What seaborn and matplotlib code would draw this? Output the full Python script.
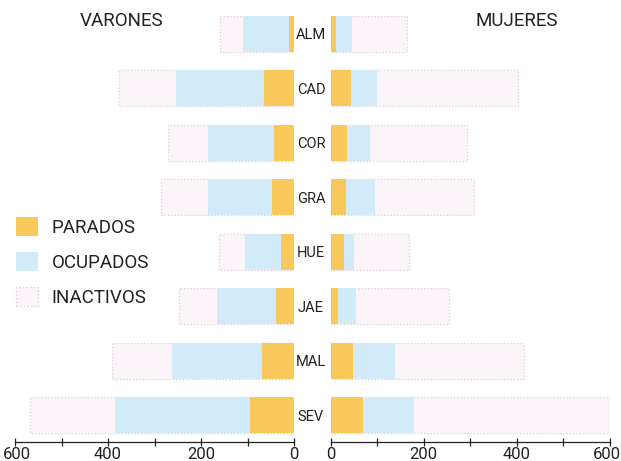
import matplotlib
matplotlib.use("Agg")
import matplotlib.pyplot as plt
import matplotlib.transforms as mtransforms
from matplotlib.patches import Patch
from matplotlib.ticker import MultipleLocator
import seaborn as sns

# Data (thousands of people)
provincias = ["ALM", "CAD", "COR", "GRA", "HUE", "JAE", "MAL", "SEV"]
var_parados = [11, 64, 43, 48, 28, 39, 69, 95]
var_ocupados = [98, 190, 142, 137, 77, 127, 194, 289]
var_inactivos = [50, 122, 87, 101, 56, 81, 129, 184]
muj_parados = [11, 44, 34, 33, 28, 15, 47, 70]
muj_ocupados = [35, 56, 50, 63, 21, 39, 91, 108]
muj_inactivos = [117, 303, 208, 212, 119, 201, 278, 422]
ticks = [0, 200, 400, 600]

c_par = "#f8c95a"
c_ocu = "#d2ebf8"
c_ina = "#fbf4f8"
c_edge = "#e2ced7"

sns.set_style("white")
plt.rcParams["font.family"] = ["Roboto", "DejaVu Sans"]
ink = "#222222"

fig = plt.figure(figsize=(6.21, 4.61), dpi=100)
H = 461
W = 621
bottom = (H - 441.7) / H
top = 1 - 10 / H
ax_l = fig.add_axes([15 / W, bottom, (294 - 15) / W, top - bottom])
ax_r = fig.add_axes([330.7 / W, bottom, (610 - 330.7) / W, top - bottom])


def stacked(ax, par, ocu, ina):
  tot_ocu = [p + o for p, o in zip(par, ocu)]
  tot = [t + i for t, i in zip(tot_ocu, ina)]
  sns.barplot(x=tot, y=provincias, orient="h", color=c_ina, saturation=1,
              width=0.66, edgecolor=c_edge, linewidth=0.9, linestyle=":", ax=ax)
  sns.barplot(x=tot_ocu, y=provincias, orient="h", color=c_ocu, saturation=1,
              width=0.66, linewidth=0, ax=ax)
  sns.barplot(x=par, y=provincias, orient="h", color=c_par, saturation=1,
              width=0.66, linewidth=0, ax=ax)
  ax.set_ylim(7.49, -0.44)
  ax.set_xticks(ticks)
  ax.xaxis.set_minor_locator(MultipleLocator(100))
  ax.tick_params(axis="x", which="both", direction="inout", length=6,
                 width=0.9, color=ink, labelsize=12, labelcolor=ink, pad=0.5,
                 bottom=True)
  for s in ["top", "left", "right"]:
    ax.spines[s].set_visible(False)
  ax.spines["bottom"].set_color(ink)
  ax.spines["bottom"].set_linewidth(0.9)
  ax.set_xlabel("")
  ax.set_ylabel("")
  ax.set_facecolor("none")


stacked(ax_l, var_parados, var_ocupados, var_inactivos)
stacked(ax_r, muj_parados, muj_ocupados, muj_inactivos)

ax_l.set_xlim(600, 0)
ax_r.set_xlim(0, 600)
ax_l.tick_params(axis="y", left=False, labelleft=False)
ax_r.tick_params(axis="y", left=False, length=0, pad=14.2, labelsize=10.5,
                 labelcolor=ink)
for lab in ax_r.get_yticklabels():
  lab.set_horizontalalignment("center")

# nudge the outermost tick labels so they stay inside the figure
shift = mtransforms.ScaledTranslation(-3 / 100, 0, fig.dpi_scale_trans)
last = ax_r.get_xticklabels()[-1]
last.set_transform(last.get_transform() + shift)
shift_l = mtransforms.ScaledTranslation(2 / 100, 0, fig.dpi_scale_trans)
first = ax_l.get_xticklabels()[-1]
first.set_transform(first.get_transform() + shift_l)

fig.text(122 / W, 1 - 21 / H, "VARONES", ha="center", va="center",
         fontsize=13.5, color=ink)
fig.text(517 / W, 1 - 21 / H, "MUJERES", ha="center", va="center",
         fontsize=13.5, color=ink)

handles = [
  Patch(facecolor=c_par, edgecolor="none", label="PARADOS"),
  Patch(facecolor=c_ocu, edgecolor="none", label="OCUPADOS"),
  Patch(facecolor=c_ina, edgecolor=c_edge, linestyle=":", label="INACTIVOS"),
]
fig.legend(handles=handles, loc="upper left", bbox_to_anchor=(16 / W, 1 - 217 / H),
           frameon=False, borderpad=0, borderaxespad=0, fontsize=13.5,
           handlelength=1.15, handleheight=1.2, handletextpad=0.75,
           labelspacing=0.8, labelcolor=ink)

fig.savefig("out.png", dpi=100)
